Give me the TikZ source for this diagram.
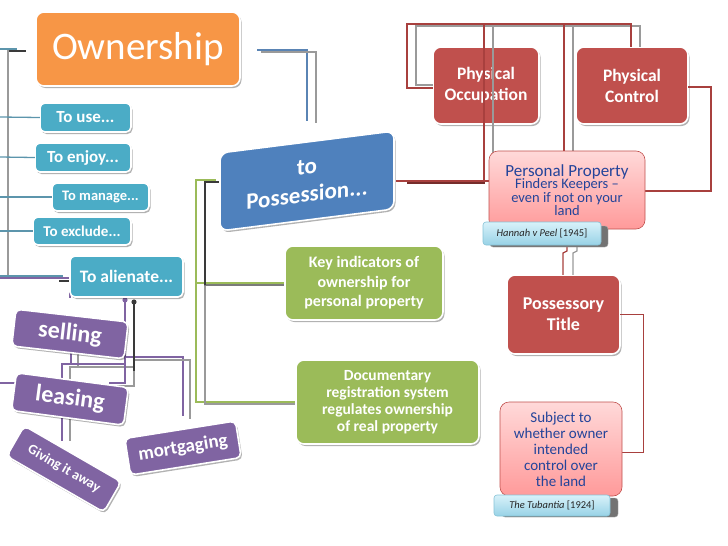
\documentclass[tikz,border=0pt]{standalone}
\usepackage{fontspec}
\setmainfont{Carlito}
\usetikzlibrary{shadows}
\definecolor{cOrange}{HTML}{F79646}
\definecolor{cTeal}{HTML}{4BACC6}
\definecolor{cBlue}{HTML}{4F81BD}
\definecolor{cGreen}{HTML}{9BBB59}
\definecolor{cRed}{HTML}{C0504D}
\definecolor{cPurple}{HTML}{8064A2}
\definecolor{cPinkTop}{HTML}{FFD9D9}
\definecolor{cPinkBot}{HTML}{FF9A9A}
\definecolor{cCapTop}{HTML}{D8F2FA}
\definecolor{cCapBot}{HTML}{98D2E6}
\definecolor{cCapLine}{HTML}{86C3D7}
\definecolor{cText}{HTML}{24449A}
\definecolor{lTeal}{HTML}{5C95AC}
\definecolor{lGray}{HTML}{9A9A9A}
\definecolor{lDark}{HTML}{3A3A3A}
\definecolor{lRed}{HTML}{A8403E}
\definecolor{lBlue}{HTML}{5A84B4}
\definecolor{lGreen}{HTML}{9BBB59}
\definecolor{lPurple}{HTML}{8064A2}
\begin{document}
\begin{tikzpicture}[x=1pt,y=-1pt,
  box/.style={rounded corners=8pt, draw=white, line width=1.6pt, text=white, align=center, inner sep=0pt,
    drop shadow={shadow xshift=1.5pt, shadow yshift=-2pt, opacity=0.3, fill=black}},
  tealbox/.style={box, fill=cTeal, rounded corners=5pt, font=\fontsize{#1}{#1}\selectfont\bfseries},
  redbox/.style={box, fill=cRed, font=\fontsize{17.5}{21}\selectfont\bfseries},
  greenbox/.style={box, fill=cGreen},
  purplebox/.style={box, fill=cPurple, rounded corners=5pt},
  pinkbox/.style={rounded corners=9pt, draw=cRed, line width=0.6pt, top color=cPinkTop, bottom color=cPinkBot, text=cText, align=center, inner sep=0pt},
  capbox/.style={rounded corners=3pt, draw=cCapLine, line width=0.6pt, top color=cCapTop, bottom color=cCapBot, text=black!85, inner sep=0pt, font=\fontsize{10.5}{12}\selectfont},
  capshadow/.style={rounded corners=3pt, fill=black!55, draw=black!35},
  ln/.style={line width=1.3pt, line cap=rect}
]
\useasboundingbox (0,0) rectangle (728,546);

% ---------- free ends ----------
\coordinate (e0) at (0,49);
\coordinate (e1) at (0,117);
\coordinate (e2) at (0,157);
\coordinate (e3) at (0,197);
\coordinate (e4) at (0,231);
\coordinate (e5) at (0,276);
\coordinate (e6) at (0,278);
\coordinate (e7) at (0,383);

% ---------- lines behind boxes (left) ----------
\draw[ln,lTeal] (e0) -- (16,49);
\draw[ln,lDark] (8,51) -- (25,51);
\draw[ln,lGray] (8,51) -- (8,278);
\draw[ln,lTeal] (e5) -- (62,276);
\draw[ln,lPurple] (e6) -- (70,278) -- (70,297);
\draw[ln,lDark] (60,281) -- (78,281) -- (78,297);
\draw[ln,lPurple] (71,320) -- (71,364);
\draw[ln,lGray] (78,320) -- (78,367);
\draw[ln,lPurple] (125,364) -- (62,364) -- (62,440);
\draw[ln,lGray] (134,367) -- (70,367) -- (70,440);
\draw[ln,lPurple] (125,357) -- (183,357) -- (183,415);
\draw[ln,lGray] (134,360) -- (190,360) -- (190,418);
\draw[ln,lPurple] (125,301) -- (125,383) -- (110,383);
\draw[ln,lGray] (134,370) -- (134,386) -- (115,386);
\draw[ln,lDark] (134,303) -- (134,370);
\draw[ln,lPurple] (e7) -- (20,383);
\fill[lPurple] (125,300) circle (2.6pt);
\fill[lDark] (134,302) circle (2.6pt);

% ---------- boxes (left) ----------
\node[box, fill=cOrange, minimum width=204pt, minimum height=74pt, font=\fontsize{39}{40}\selectfont] (own) at (138,49) {Ownership};
\node[tealbox=17, minimum width=91pt, minimum height=29pt] (use) at (85.5,117.5) {To use...};
\node[tealbox=17, minimum width=96pt, minimum height=29pt] (enjoy) at (83,157.5) {To enjoy...};
\node[tealbox=14.5, minimum width=97pt, minimum height=28pt] (manage) at (100.5,197) {To manage...};
\node[tealbox=15, minimum width=98pt, minimum height=28pt] (exclude) at (82,231) {To exclude...};
\node[tealbox=17.5, minimum width=113pt, minimum height=41pt] (alien) at (126.5,276.5) {To alienate...};

\draw[ln,lTeal] (e1) -- (use.west);
\draw[ln,lTeal] (e2) -- (enjoy.west);
\draw[ln,lTeal] (e3) -- (manage.west);
\draw[ln,lTeal] (e4) -- (exclude.west);

\node[purplebox, rotate=-6.5, minimum width=113pt, minimum height=37pt, font=\fontsize{24}{26}\selectfont\bfseries] (sell) at (70,334) {selling};
\node[purplebox, rotate=-7.5, minimum width=113pt, minimum height=38pt, font=\fontsize{24}{26}\selectfont\bfseries] (lease) at (70,399) {leasing};
\node[purplebox, rotate=-30, minimum width=112pt, minimum height=35pt, font=\fontsize{14}{16}\selectfont\bfseries] (give) at (64,469) {Giving it away};
\node[purplebox, rotate=9, minimum width=112pt, minimum height=37pt, font=\fontsize{19}{21}\selectfont\bfseries] (mort) at (183,448) {mortgaging};

% ---------- middle ----------
\draw[ln,lBlue] (258,50) -- (307,50) -- (307,120);
\draw[ln,lGray] (262,52) -- (316,52) -- (316,122);

\draw[ln,lGreen] (215,180) -- (196,180) -- (196,402) -- (297,402);
\draw[ln,lGreen] (196,283) -- (286,283);
\draw[ln,lGray] (205,284) -- (205,404) -- (297,404);
\draw[ln,lGray!80!black] (205,285) -- (286,285);
\draw[ln,lDark] (222,182) -- (205,182) -- (205,284);

\begin{scope}[shift={(307,181)}, yslant=0.126]
\node[box, fill=cBlue, minimum width=174pt, minimum height=78pt, transform shape, font=\fontsize{23}{28}\selectfont\bfseries] (poss) at (0,0) {to\\Possession...};
\end{scope}

\node[greenbox, minimum width=158pt, minimum height=74pt, font=\fontsize{16}{19.5}\selectfont\bfseries] (key) at (364,283) {Key indicators of\\ownership for\\personal property};
\node[greenbox, minimum width=183pt, minimum height=84pt, font=\fontsize{15.5}{17}\selectfont\bfseries] (doc) at (387.5,402) {Documentary\\registration system\\regulates ownership\\of real property};

% ---------- right ----------
\node[redbox, minimum width=106pt, minimum height=77pt] (occ) at (486,85.5) {Physical\\Occupation};
\node[redbox, minimum width=112pt, minimum height=77pt] (ctrl) at (632,85.5) {Physical\\Control};
\node[redbox, minimum width=113pt, minimum height=79pt, font=\fontsize{18}{21}\selectfont\bfseries] (ptitle) at (563.5,314.5) {Possessory\\Title};

\draw[ln,lGray] (occ.west |- 0,85) -- (416,85) -- (416,26) -- (640,26) -- (640,46);
\draw[ln,lRed] (occ.west |- 0,88) -- (407,88) -- (407,24) -- (631,24) -- (ctrl.north -| 631,0);
\draw[ln,lGray] (493,26) -- (493,152);
\draw[ln,lRed] (484,24) -- (484,181);
\draw[ln,lGray] (573,26) -- (573,152);
\draw[ln,lRed] (564,24) -- (564,152);
\draw[ln,lRed] (397,181) -- (489,181);
\draw[ln,lRed!70!black] (408,183) -- (484,183);
\draw[ln,lRed] (ctrl.east |- 0,87) -- (711,87) -- (711,191) -- (645,191);
\draw[ln,lRed] (567,245) -- (567,251) -- (563,253) -- (ptitle.north -| 563,0);
\draw[ln,lGray] (577,245) -- (577,251) -- (573,253) -- (ptitle.north -| 573,0);
\draw[ln,lRed, line width=0.9pt] (ptitle.east) -- (643,314.5) -- (643,452) -- (622,452);

\node[pinkbox, minimum width=156pt, minimum height=78pt] (pp) at (567,190) {{\fontsize{17}{18}\selectfont Personal Property}\\[-1pt]{\fontsize{14.5}{13.5}\selectfont Finders Keepers \textendash}\\{\fontsize{14.5}{13.5}\selectfont even if not on your}\\{\fontsize{14.5}{13.5}\selectfont land}};
\node[pinkbox, minimum width=122pt, minimum height=94pt, font=\fontsize{15}{16}\selectfont] (subj) at (561,449) {Subject to\\whether owner\\intended\\control over\\the land};

\fill[capshadow] (490,226) rectangle (608,247);
\node[capbox, minimum width=118pt, minimum height=23pt] (hannah) at (542,233.5) {\itshape Hannah v Peel \upshape[1945]};
\fill[capshadow] (502,498) rectangle (618,517);
\node[capbox, minimum width=116pt, minimum height=21pt] (tub) at (552,505.5) {\itshape The Tubantia \upshape[1924]};
\end{tikzpicture}
\end{document}
